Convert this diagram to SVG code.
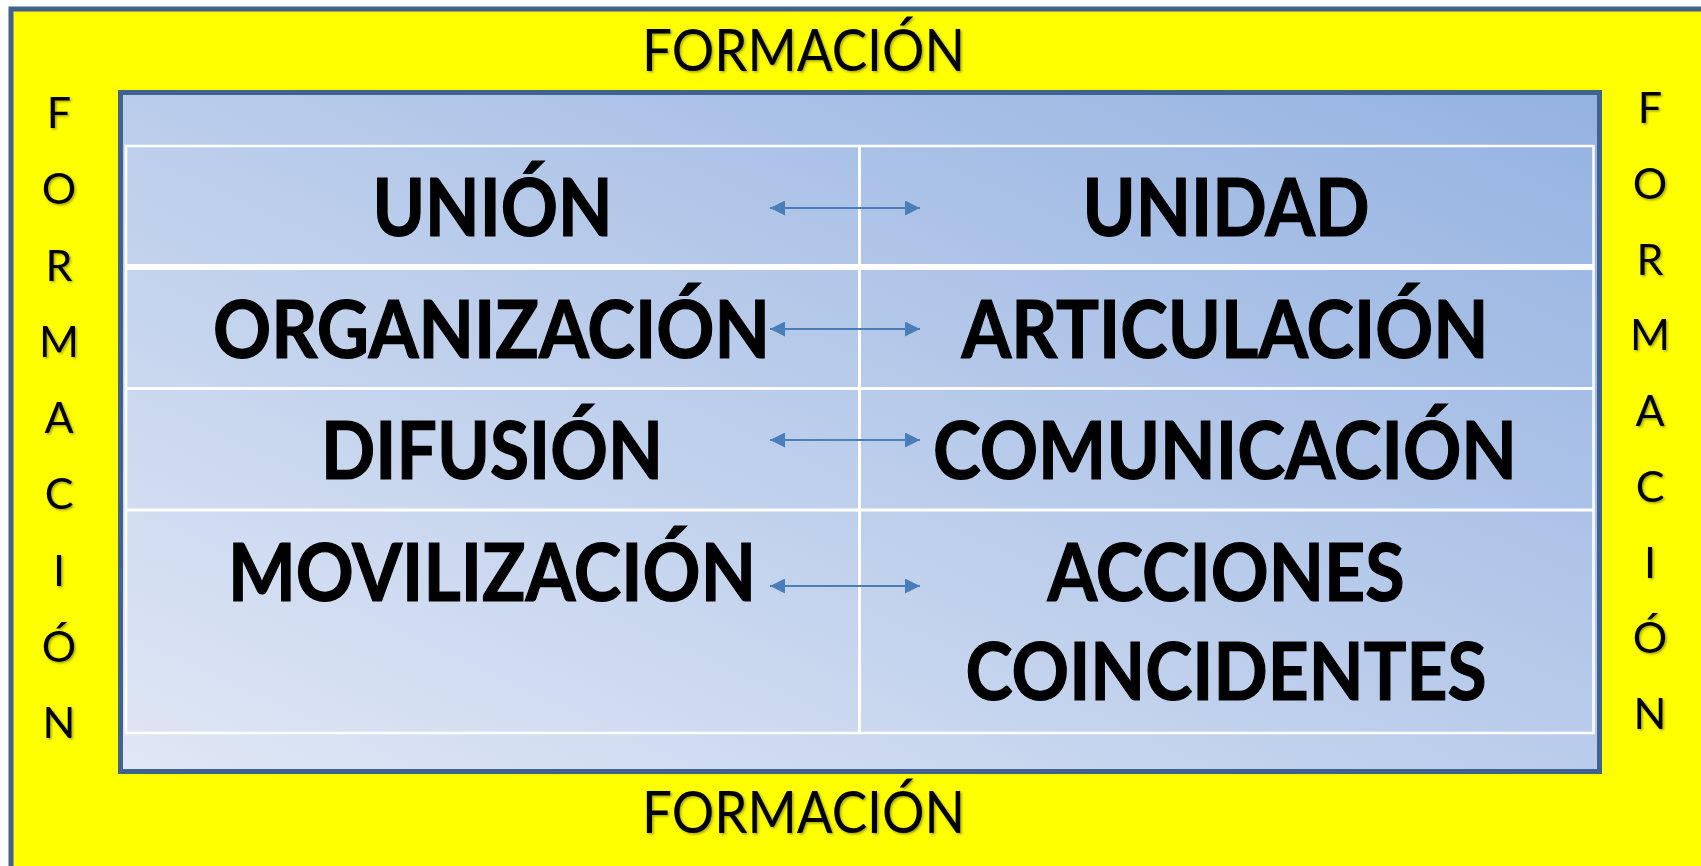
<svg xmlns="http://www.w3.org/2000/svg" width="1701" height="866" viewBox="0 0 1701 866">
<style>
.main{font-family:Lato,"Open Sans","Liberation Sans",sans-serif;font-weight:700;font-size:80px;fill:#000;stroke:#000;stroke-width:1.2;text-anchor:middle}
.form{font-family:Lato,"Open Sans","Liberation Sans",sans-serif;font-weight:400;font-size:58px;fill:#000;text-anchor:middle}
.vert{font-family:Lato,"Open Sans","Liberation Sans",sans-serif;font-weight:400;font-size:43px;fill:#000;text-anchor:middle}
.grid{stroke:#fff;fill:none}
.arrow{stroke:#4a7ebb;stroke-width:2;fill:none}
</style>
<defs>
<linearGradient id="bg" x1="0" y1="1" x2="1" y2="0">
<stop offset="0" stop-color="#e0e7f5"/>
<stop offset="1" stop-color="#94b2e1"/>
</linearGradient>
<filter id="sh" x="-20%" y="-20%" width="140%" height="140%">
<feDropShadow dx="1.5" dy="1.5" stdDeviation="1" flood-color="#000" flood-opacity="0.35"/>
</filter>
<marker id="ah" viewBox="0 0 15 15" refX="15" refY="7.5" markerWidth="15" markerHeight="15" markerUnits="userSpaceOnUse" orient="auto-start-reverse">
<path d="M0,0 L15,7.5 L0,15 z" fill="#4a7ebb"/>
</marker>
</defs>
<rect width="1701" height="866" fill="#ffffff"/>
<g id="frame">
<rect x="11" y="9" width="1720" height="900" fill="#ffff00" stroke="#41618f" stroke-width="5"/>
</g>
<g id="formacion-top"><text class="form" x="803.5" y="71" textLength="323" lengthAdjust="spacingAndGlyphs" filter="url(#sh)">FORMACIÓN</text></g>
<g id="formacion-bottom"><text class="form" x="803.5" y="833" textLength="323" lengthAdjust="spacingAndGlyphs" filter="url(#sh)">FORMACIÓN</text></g>
<g id="formacion-left" filter="url(#sh)">
<text class="vert" x="59" y="128">F</text>
<text class="vert" x="59" y="204">O</text>
<text class="vert" x="59" y="280.5">R</text>
<text class="vert" x="59" y="357">M</text>
<text class="vert" x="59" y="433">A</text>
<text class="vert" x="59" y="509">C</text>
<text class="vert" x="59" y="585.5">I</text>
<text class="vert" x="59" y="662">Ó</text>
<text class="vert" x="59" y="738">N</text>
</g>
<g id="formacion-right" filter="url(#sh)">
<text class="vert" x="1650" y="123">F</text>
<text class="vert" x="1650" y="199">O</text>
<text class="vert" x="1650" y="274.5">R</text>
<text class="vert" x="1650" y="350">M</text>
<text class="vert" x="1650" y="426">A</text>
<text class="vert" x="1650" y="502">C</text>
<text class="vert" x="1650" y="577.5">I</text>
<text class="vert" x="1650" y="653">Ó</text>
<text class="vert" x="1650" y="729">N</text>
</g>
<g id="panel">
<rect x="120.5" y="92.5" width="1479" height="679" fill="url(#bg)" stroke="#41618f" stroke-width="5"/>
<rect class="grid" x="126" y="146" width="1467.5" height="587" stroke-width="2.5"/>
<line class="grid" x1="126" y1="267" x2="1593.5" y2="267" stroke-width="6"/>
<line class="grid" x1="126" y1="388.5" x2="1593.5" y2="388.5" stroke-width="3"/>
<line class="grid" x1="126" y1="510" x2="1593.5" y2="510" stroke-width="3"/>
<line class="grid" x1="859.5" y1="146" x2="859.5" y2="733" stroke-width="3"/>
</g>
<g id="node-union"><text class="main" x="492.5" y="235.5" textLength="240" lengthAdjust="spacingAndGlyphs">UNIÓN</text></g>
<g id="node-unidad"><text class="main" x="1226" y="235.5" textLength="287" lengthAdjust="spacingAndGlyphs">UNIDAD</text></g>
<g id="node-organizacion"><text class="main" x="491.5" y="358" textLength="557" lengthAdjust="spacingAndGlyphs">ORGANIZACIÓN</text></g>
<g id="node-articulacion"><text class="main" x="1225" y="358" textLength="527" lengthAdjust="spacingAndGlyphs">ARTICULACIÓN</text></g>
<g id="node-difusion"><text class="main" x="492" y="478.5" textLength="342" lengthAdjust="spacingAndGlyphs">DIFUSIÓN</text></g>
<g id="node-comunicacion"><text class="main" x="1225" y="478.5" textLength="584" lengthAdjust="spacingAndGlyphs">COMUNICACIÓN</text></g>
<g id="node-movilizacion"><text class="main" x="492" y="601" textLength="528" lengthAdjust="spacingAndGlyphs">MOVILIZACIÓN</text></g>
<g id="node-acciones">
<text class="main" x="1226" y="600.5" textLength="357" lengthAdjust="spacingAndGlyphs">ACCIONES</text>
<text class="main" x="1226" y="700" textLength="521" lengthAdjust="spacingAndGlyphs">COINCIDENTES</text>
</g>
<g id="connectors">
<line class="arrow" x1="770" y1="208" x2="920" y2="208" marker-start="url(#ah)" marker-end="url(#ah)"/>
<line class="arrow" x1="770" y1="329" x2="920" y2="329" marker-start="url(#ah)" marker-end="url(#ah)"/>
<line class="arrow" x1="770" y1="440" x2="920" y2="440" marker-start="url(#ah)" marker-end="url(#ah)"/>
<line class="arrow" x1="770" y1="586" x2="920" y2="586" marker-start="url(#ah)" marker-end="url(#ah)"/>
</g>
</svg>
